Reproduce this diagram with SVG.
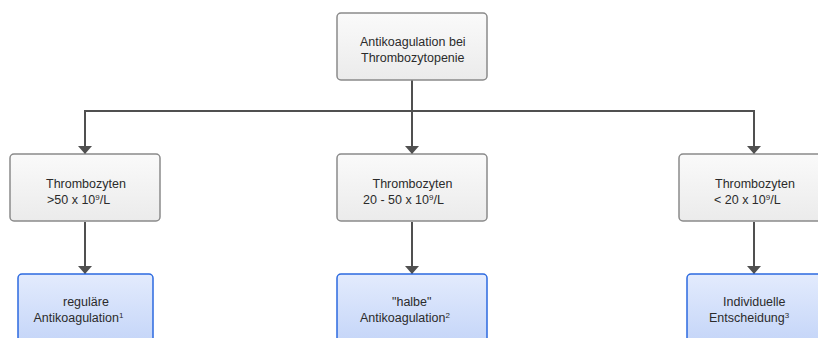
<svg xmlns="http://www.w3.org/2000/svg" width="818" height="338" viewBox="0 0 818 338">
<defs>
<linearGradient id="gGray" x1="0" y1="0" x2="0" y2="1"><stop offset="0" stop-color="#fafafa"/><stop offset="1" stop-color="#ebebeb"/></linearGradient>
<linearGradient id="gBlue" x1="0" y1="0" x2="0" y2="1"><stop offset="0" stop-color="#e3ebfd"/><stop offset="1" stop-color="#c4d5f8"/></linearGradient>
<marker id="arr" viewBox="0 0 8 14" refX="8" refY="7" markerWidth="8" markerHeight="14" markerUnits="userSpaceOnUse" orient="auto"><path d="M0,0 L8,7 L0,14 z" fill="#505050"/></marker>
</defs>
<style>
.gray{fill:url(#gGray);stroke:#8a8a8a;stroke-width:1.5}
.blue{fill:url(#gBlue);stroke:#2c6ae0;stroke-width:1.5}
text{font-family:"Liberation Sans",Arial,sans-serif;font-size:12.5px;fill:#2b2b2b}
.sup{font-size:8px}
.conn{fill:none;stroke:#505050;stroke-width:2;marker-end:url(#arr)}
</style>
<g id="connectors">
<path class="conn" d="M412,80 V154"/>
<path class="conn" d="M412,111 H85 V154"/>
<path class="conn" d="M412,111 H754 V154"/>
<path class="conn" d="M85,222 V274"/>
<path class="conn" d="M412,222 V274"/>
<path class="conn" d="M754,222 V274"/>
</g>
<g id="root">
<rect class="gray" x="337" y="13" width="150" height="67" rx="4"/>
<text x="360" y="46">Antikoagulation bei</text>
<text x="361" y="62">Thrombozytopenie</text>
</g>
<g id="n1">
<rect class="gray" x="10" y="154" width="150" height="67" rx="4"/>
<text x="46" y="188">Thrombozyten</text>
<text x="47" y="204">&gt;50 x 10<tspan class="sup" dy="-4">9</tspan><tspan dy="4">/L</tspan></text>
</g>
<g id="n2">
<rect class="gray" x="337" y="154" width="150" height="67" rx="4"/>
<text x="372.5" y="188">Thrombozyten</text>
<text x="363" y="204">20 - 50 x 10<tspan class="sup" dy="-4">9</tspan><tspan dy="4">/L</tspan></text>
</g>
<g id="n3">
<rect class="gray" x="679" y="154" width="150" height="67" rx="4"/>
<text x="715" y="188">Thrombozyten</text>
<text x="714" y="204">&lt; 20 x 10<tspan class="sup" dy="-4">9</tspan><tspan dy="4">/L</tspan></text>
</g>
<g id="r1">
<rect class="blue" x="18" y="274" width="135" height="70" rx="4"/>
<text x="63" y="306">reguläre</text>
<text x="33.5" y="322">Antikoagulation<tspan class="sup" dy="-4">1</tspan></text>
</g>
<g id="r2">
<rect class="blue" x="337" y="274" width="150" height="70" rx="4"/>
<text x="392" y="306">"halbe"</text>
<text x="360" y="322">Antikoagulation<tspan class="sup" dy="-4">2</tspan></text>
</g>
<g id="r3">
<rect class="blue" x="687" y="274" width="135" height="70" rx="4"/>
<text x="723" y="306">Individuelle</text>
<text x="709" y="322">Entscheidung<tspan class="sup" dy="-4">3</tspan></text>
</g>
</svg>
